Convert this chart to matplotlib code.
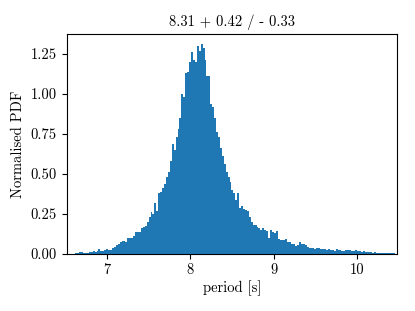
import numpy as np
import matplotlib
matplotlib.use('Agg')
import matplotlib.pyplot as plt

plt.rcParams['font.family'] = ['cmr10', 'DejaVu Serif']
plt.rcParams['mathtext.fontset'] = 'cm'
plt.rcParams['axes.formatter.use_mathtext'] = True
plt.rcParams['font.size'] = 10.5

#%% Datos leidos del histograma (densidad por bin)
p_min, p_max = 6.615, 10.466
n_bins = 166
pdf = [
    0.004, 0.006, 0.015, 0.012, 0.008, 0.009, 0.007, 0.010, 0.013, 0.019,
    0.015, 0.016, 0.030, 0.018, 0.016, 0.022, 0.030, 0.028, 0.027, 0.040,
    0.045, 0.056, 0.064, 0.074, 0.081, 0.080, 0.077, 0.098, 0.100, 0.097,
    0.115, 0.140, 0.138, 0.135, 0.160, 0.168, 0.172, 0.200, 0.230, 0.265,
    0.250, 0.320, 0.270, 0.380, 0.390, 0.410, 0.440, 0.480, 0.510, 0.580,
    0.690, 0.650, 0.730, 0.780, 0.850, 1.000, 0.980, 1.130, 1.140, 1.200,
    1.260, 1.210, 1.200, 1.300, 1.270, 1.310, 1.290, 1.210, 1.110, 1.110,
    0.940, 0.920, 0.850, 0.760, 0.730, 0.660, 0.610, 0.560, 0.510, 0.480,
    0.450, 0.400, 0.380, 0.340, 0.380, 0.290, 0.300, 0.280, 0.275, 0.270,
    0.230, 0.200, 0.180, 0.180, 0.170, 0.165, 0.150, 0.160, 0.150, 0.145,
    0.100, 0.150, 0.140, 0.130, 0.145, 0.095, 0.085, 0.090, 0.087, 0.095,
    0.075, 0.075, 0.060, 0.060, 0.050, 0.055, 0.075, 0.060, 0.062, 0.058,
    0.045, 0.035, 0.040, 0.040, 0.030, 0.035, 0.036, 0.034, 0.030, 0.032,
    0.028, 0.030, 0.022, 0.026, 0.018, 0.030, 0.028, 0.022, 0.020, 0.018,
    0.025, 0.022, 0.025, 0.018, 0.020, 0.024, 0.020, 0.016, 0.015, 0.018,
    0.012, 0.015, 0.010, 0.012, 0.008, 0.010, 0.006, 0.008, 0.005, 0.006,
    0.005, 0.006, 0.004, 0.006, 0.005, 0.004,
]
titulo = '8.31 + 0.42 / - 0.33'

edges = np.linspace(p_min, p_max, n_bins + 1)
centers = 0.5*(edges[:-1] + edges[1:])

#%% Grafico
fig = plt.figure(figsize=(4.15, 3.11), dpi=100)
ax = fig.add_axes([0.1607, 0.1833, 0.9573 - 0.1607, 0.8907 - 0.1833])
ax.hist(centers, bins=edges, weights=pdf, color='C0')
ax.set_xlim(6.511, 10.489)
ax.set_ylim(0, 1.375)
ax.set_yticks([0, 0.25, 0.5, 0.75, 1.0, 1.25])
ax.set_yticklabels(['0.00', '0.25', '0.50', '0.75', '1.00', '1.25'])
ax.set_xticks([7, 8, 9, 10])
ax.set_xticklabels(['7', '8', '9', '10'])
ax.tick_params(labelsize=10.5)
ax.set_xlabel('period [s]', fontsize=10.5, labelpad=2)
ax.set_ylabel('Normalised PDF', fontsize=10.5)
ax.set_title(titulo, fontsize=10.5)
fig.savefig('out.png', dpi=100)
